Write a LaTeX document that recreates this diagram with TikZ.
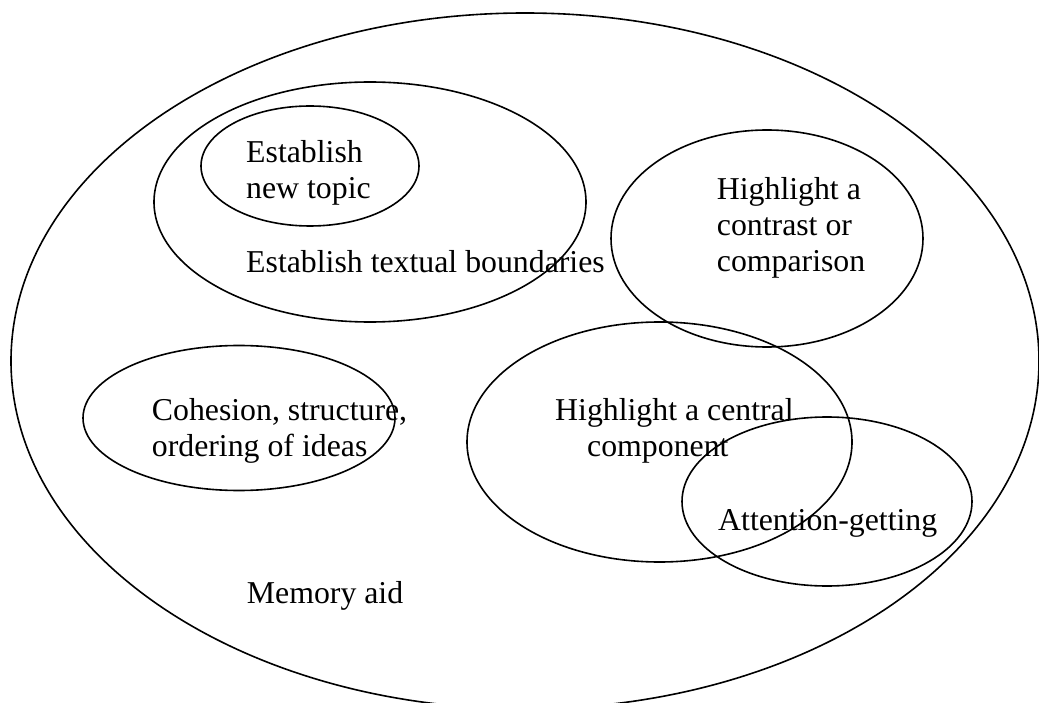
\documentclass[tikz,border=0pt]{standalone}
\usepackage{fontspec}
\setmainfont{Liberation Serif}
\usetikzlibrary{shapes.geometric}
\tikzset{
  blob/.style={ellipse, draw=black, line width=1.6pt, inner sep=0pt, fill=none},
  lbl/.style={anchor=base west, inner sep=0pt, align=left, font=\fontsize{31.8}{36.3}\selectfont}
}
\begin{document}
\begin{tikzpicture}[x=1pt, y=-1pt]
\useasboundingbox (0,0) rectangle (1039,703);
\clip (0,0) rectangle (1039,703);
% outer
\node[blob, minimum width=1028pt, minimum height=696pt] (outer) at (525,361) {};
% boundaries
\node[blob, minimum width=432pt, minimum height=240pt] (bound) at (370,202) {};
\node[blob, minimum width=218pt, minimum height=120pt] (topic) at (310,166) {};
% contrast
\node[blob, minimum width=312pt, minimum height=217pt] (contrast) at (767,238.5) {};
% central
\node[blob, minimum width=385pt, minimum height=240pt] (central) at (659.5,442) {};
% attention
\node[blob, minimum width=290pt, minimum height=169pt] (attn) at (827,501.5) {};
% cohesion
\node[blob, minimum width=312pt, minimum height=145pt] (cohes) at (239,418) {};
% labels (anchor = baseline of the last line)
\node[lbl] (t1) at (246,198.6) {Establish\\new topic};
\node[lbl] (t2) at (246,272.7) {Establish textual boundaries};
\node[lbl] (t3) at (716.7,271.7) {Highlight a\\contrast or\\comparison};
\node[lbl] (t4) at (555,456.5) {Highlight a central\\\hspace*{32pt}component};
\node[lbl] (t5) at (718,530) {Attention-getting};
\node[lbl] (t6) at (151.7,456.5) {Cohesion, structure,\\ordering of ideas};
\node[lbl] (t7) at (246.7,603) {Memory aid};
\end{tikzpicture}
\end{document}
